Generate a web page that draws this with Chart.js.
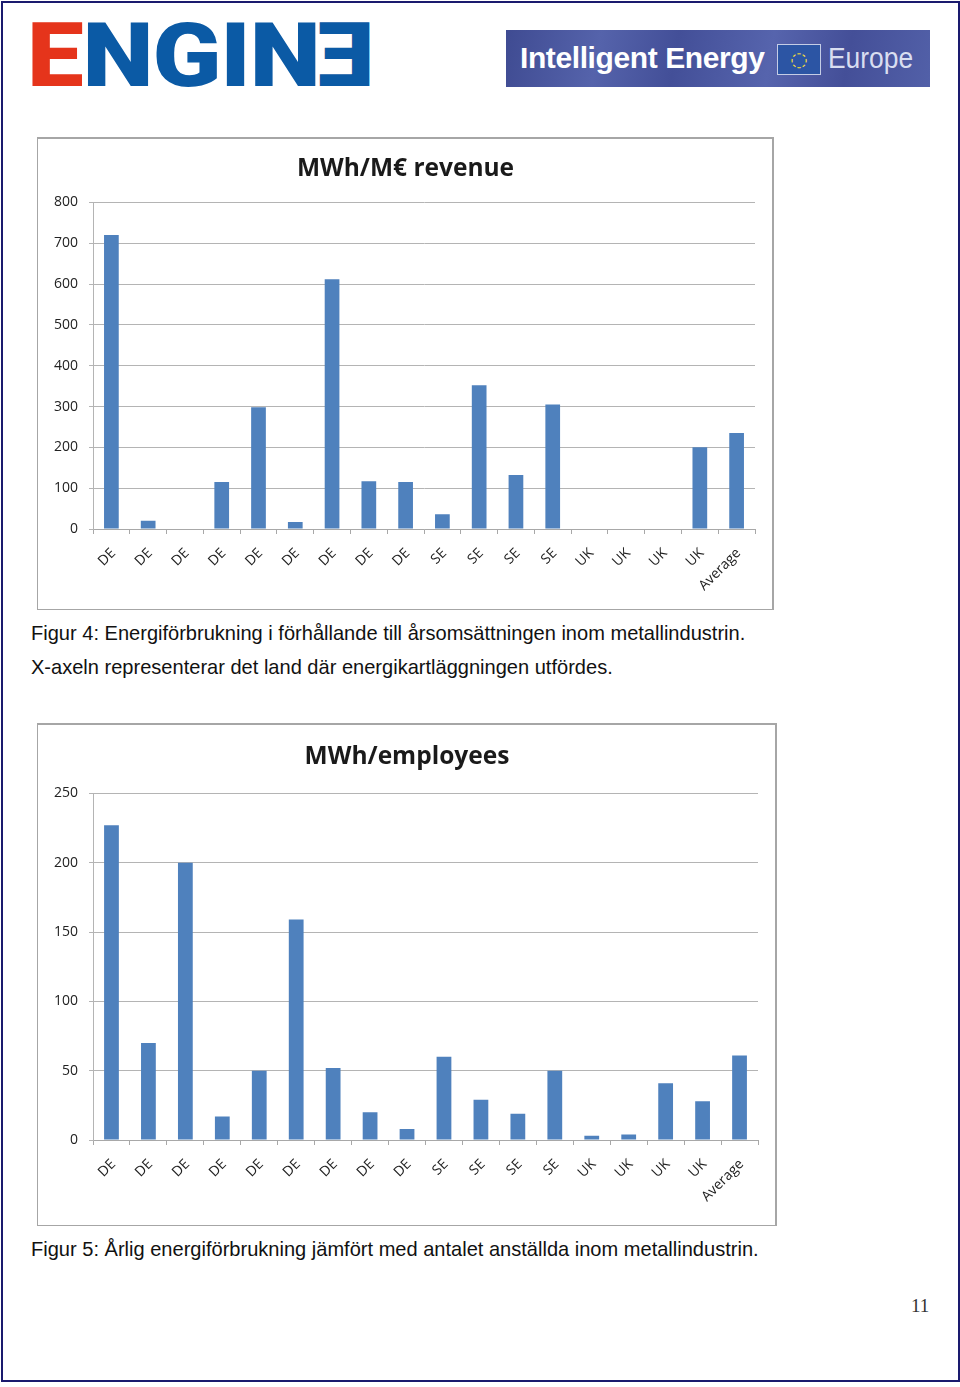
<!DOCTYPE html>
<html>
<head>
<meta charset="utf-8">
<script src="https://cdn.jsdelivr.net/npm/chart.js@4/dist/chart.umd.min.js"></script>
<style>
html,body{margin:0;padding:0;background:#fff;}
#page{position:relative;width:960px;height:1387px;overflow:hidden;background:#fff;}
#frame{position:absolute;left:1px;top:1px;width:955px;height:1377px;border:2px solid #1a1a6e;}
.box{position:absolute;box-sizing:border-box;border:2px solid #a6a6a6;border-left-width:1px;border-bottom-width:1px;background:#fff;}
.box canvas{position:absolute;left:0;top:0;}
.cap{position:absolute;left:31px;font:20.06px "Liberation Sans",sans-serif;color:#111;white-space:nowrap;line-height:24px;}
#pn{position:absolute;left:911px;top:1295px;font:19px "Liberation Serif",serif;color:#333;}
#engine{position:absolute;left:27px;top:11px;height:90px;font:900 89px/90px "Roboto",sans-serif;color:#0b5aa5;white-space:nowrap;transform-origin:0 50%;transform:scaleX(1.137);letter-spacing:-1px;}
#engine .r{color:#e5341b;}
#engine .m{display:inline-block;transform:scaleX(-1);}
#banner{position:absolute;left:506px;top:30px;width:424px;height:57px;background:linear-gradient(100deg,#3f4b92,#5563ab 22%,#434f98 40%,#5664ad 62%,#444f98 80%,#5260a8);}
#banner .a{position:absolute;left:14px;top:9px;font:bold 30px/38px "Liberation Sans",sans-serif;color:#fff;white-space:nowrap;letter-spacing:-.4px;}
#banner .f{position:absolute;left:271px;top:14px;width:42px;height:29px;background:#2c55a4;border:1px solid #c5cde6;color:#f3dc3c;font:20px/28px "DejaVu Sans",sans-serif;text-align:center;}
#banner .e{position:absolute;left:322px;top:9px;font:30px/38px "Liberation Sans",sans-serif;color:#d9def0;white-space:nowrap;transform-origin:0 50%;transform:scaleX(.88);}
</style>
</head>
<body>
<div id="page">
  <div id="frame"></div>
  <div id="engine"><span class="r">E</span>NGIN<span class="m">E</span></div>
  <div id="banner"><div class="a">Intelligent Energy</div><div class="f">◌</div><div class="e">Europe</div></div>
  <div class="box" style="left:37px;top:137px;width:737px;height:473px"><canvas id="c1"></canvas></div>
  <div class="cap" style="top:621px">Figur 4: Energiförbrukning i förhållande till årsomsättningen inom metallindustrin.</div>
  <div class="cap" style="top:655px">X-axeln representerar det land där energikartläggningen utfördes.</div>
  <div class="box" style="left:37px;top:723px;width:740px;height:503px"><canvas id="c2"></canvas></div>
  <div class="cap" style="top:1237px">Figur 5: Årlig energiförbrukning jämfört med antalet anställda inom metallindustrin.</div>
  <div id="pn">11</div>
</div>
<script>
const categories = ["DE","DE","DE","DE","DE","DE","DE","DE","DE","SE","SE","SE","SE","UK","UK","UK","UK","Average"];
const revenueValues = [720,20,0,115,298,17,612,117,115,36,352,132,305,0,0,0,200,235];
const employeeValues = [227,70,200,17,50,159,52,20,8,60,29,19,50,3,4,41,28,61];
const revenueTicks = {max:800, step:100};
const employeeTicks = {max:250, step:50};

function make(id, w, h, title, values, t, axisLeft, axisBottom, gapRight, titleTop, titleBottom){
  const cv = document.getElementById(id);
  cv.width = w; cv.height = h; cv.style.width = w+'px'; cv.style.height = h+'px';
  new Chart(cv, {
    type:'bar',
    data:{labels:categories, datasets:[{data:values, backgroundColor:'#4f81bd', barPercentage:0.4, categoryPercentage:1}]},
    options:{
      responsive:false, animation:false, devicePixelRatio:1,
      plugins:{
        legend:{display:false}, tooltip:{enabled:false},
        title:{display:true,text:title,color:'#1a1a1a',font:{family:'"Open Sans"',size:24.5,weight:'bold'},padding:{top:titleTop,bottom:titleBottom}}
      },
      scales:{
        x:{
          afterFit(s){s.height=axisBottom;},
          grid:{drawOnChartArea:false,offset:true,color:'#a8a8a8',tickLength:5},
          border:{color:'#a8a8a8'},
          ticks:{autoSkip:false,minRotation:45,maxRotation:45,padding:11,labelOffset:2,color:'#222',font:{family:'"Open Sans"',size:14}}
        },
        y:{
          min:0,max:t.max,
          afterFit(s){s.width=axisLeft;},
          grid:{color:'#b4b4b4',tickColor:'#b4b4b4',tickLength:4},
          border:{color:'#b4b4b4'},
          ticks:{stepSize:t.step,padding:11,color:'#222',font:{family:'"Open Sans"',size:14}}
        },
        gap:{
          position:'right',
          afterFit(s){s.width=gapRight;},
          grid:{display:false},
          border:{display:false},
          ticks:{display:false}
        }
      }
    }
  });
}
make('c1',735,470,'MWh/M€ revenue',revenueValues,revenueTicks,55,80,18,15,19);
make('c2',738,500,'MWh/employees',employeeValues,employeeTicks,55,85,18,17,22);
</script>
</body>
</html>
